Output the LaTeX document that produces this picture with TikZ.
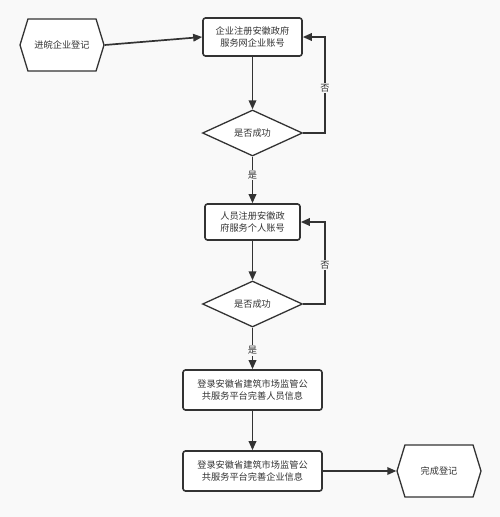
\documentclass[tikz,border=0pt]{standalone}
\usepackage{fontspec}
\setmainfont{Noto Sans CJK SC}
\usetikzlibrary{shapes.geometric,shapes.symbols,arrows.meta}
\definecolor{ln}{HTML}{333333}
\definecolor{bg}{HTML}{F9F9F9}
\tikzset{
  every node/.style={font=\fontsize{9.2}{12}\selectfont, text=ln},
  procbox/.style={draw=ln, line width=1.6pt, rounded corners=2.5pt, fill=white, align=center, inner sep=0pt},
  decbox/.style={draw=ln, line width=1.3pt, diamond, aspect=2, fill=white, inner sep=0pt, minimum width=100pt, minimum height=46pt},
  termbox/.style={draw=ln, line width=1.3pt, signal, signal to=west and east, signal pointer angle=146, fill=white, inner sep=0pt, minimum width=84pt, minimum height=52pt},
  conn/.style={draw=ln, line width=1.7pt, -{Triangle[length=9pt,width=7.5pt]}},
  lbl/.style={fill=bg, inner sep=1pt}
}
\begin{document}
\begin{tikzpicture}[x=1pt,y=-1pt]
\fill[bg] (0,0) rectangle (500,517);
\useasboundingbox (0,0) rectangle (500,517);
\node[termbox] (start) at (62,45) {进皖企业登记};
\node[procbox, minimum width=99pt, minimum height=38pt] (b1) at (252.5,37) {企业注册安徽政府\\服务网企业账号};
\node[decbox] (d1) at (252.5,133) {是否成功};
\node[procbox, minimum width=95pt, minimum height=36pt] (b2) at (252.5,222) {人员注册安徽政\\府服务个人账号};
\node[decbox] (d2) at (252.5,304) {是否成功};
\node[procbox, minimum width=139pt, minimum height=40pt] (b3) at (252.5,390) {登录安徽省建筑市场监管公\\共服务平台完善人员信息};
\node[procbox, minimum width=139pt, minimum height=40pt] (b4) at (252.5,471) {登录安徽省建筑市场监管公\\共服务平台完善企业信息};
\node[termbox] (end) at (439,471) {完成登记};
\coordinate (r1a) at (325,133);
\coordinate (r1b) at (325,37);
\coordinate (r2a) at (325,304);
\coordinate (r2b) at (325,222);

\draw[conn] (start.east) -- (b1.west);
\draw[conn] (b1.south) -- (d1.north);
\draw[conn] (d1.east) -- (r1a) -- (r1b) -- (b1.east);
\node[lbl] at (325,88) {否};
\draw[conn] (d1.south) -- node[lbl, pos=0.4] {是} (b2.north);
\draw[conn] (b2.south) -- (d2.north);
\draw[conn] (d2.east) -- (r2a) -- (r2b) -- (b2.east);
\node[lbl] at (325,265) {否};
\draw[conn] (d2.south) -- node[lbl, pos=0.55] {是} (b3.north);
\draw[conn] (b3.south) -- (b4.north);
\draw[conn] (b4.east) -- (end.west);
\end{tikzpicture}
\end{document}
